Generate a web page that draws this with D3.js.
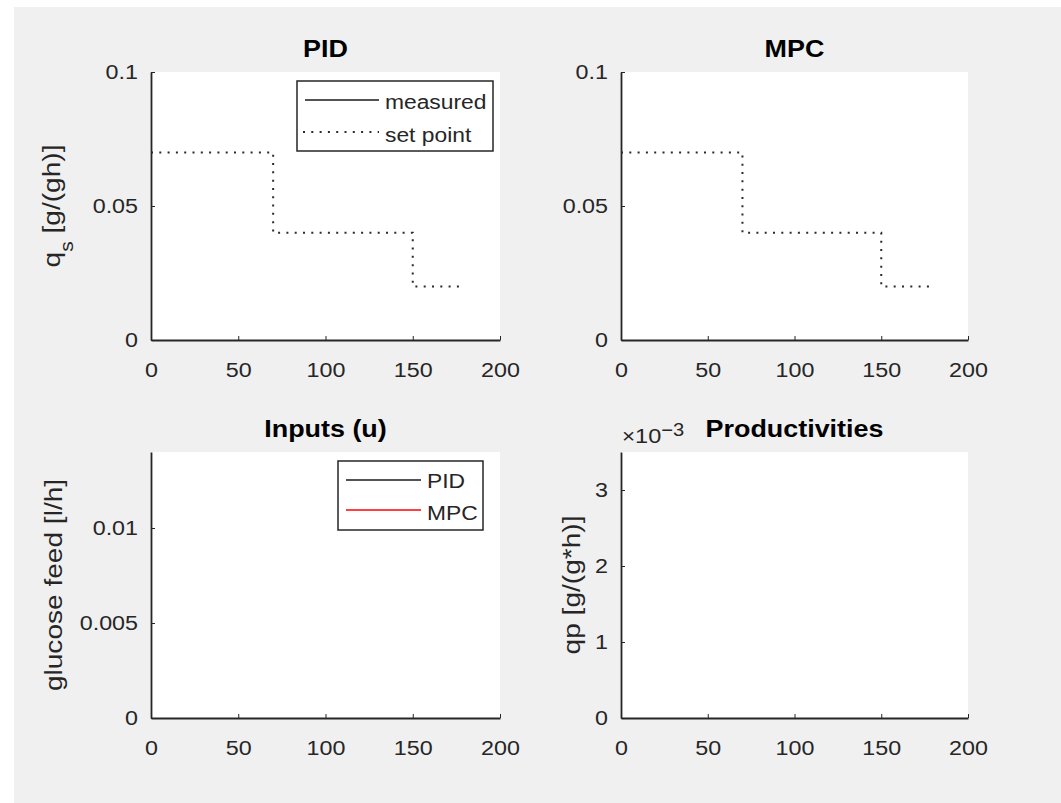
<!DOCTYPE html>
<html>
<head>
<meta charset="utf-8">
<script src="https://cdn.jsdelivr.net/npm/d3@7"></script>
<style>
  html, body { margin: 0; padding: 0; background: #ffffff; }
  svg { display: block; }
  text { font-family: "Liberation Sans", Arial, Helvetica, sans-serif; fill: #262626; }
</style>
</head>
<body>
<div id="fig"></div>
<script>
// ---- data ---------------------------------------------------------------
const timeTicks = [0, 50, 100, 150, 200];            // time axis [h]
const timeDomain = [0, 200];

// substrate uptake set point (piecewise constant)
const spTime  = [0, 70, 150, 180];
const spValue = [0.07, 0.04, 0.02, 0.02];

// measured / manipulated traces (no samples logged in this run)
const pidMeasured = [];
const mpcMeasured = [];
const pidFeed = [];
const mpcFeed = [];

const qsTicks = [0, 0.05, 0.1];
const qsDomain = [0, 0.1];
const feedTicks = [0, 0.005, 0.01];
const feedDomain = [0, 0.014];
const qpTicks = [0, 0.001, 0.002, 0.003];
const qpDomain = [0, 0.0035];

// ---- figure -------------------------------------------------------------
const W = 1061, H = 803;
const K = 1.17;                 // horizontal glyph stretch of the figure font
const KT = 1.11;                // same, for tick labels
const INK = "#262626";

const svg = d3.select("#fig").append("svg")
  .attr("width", W).attr("height", H);

// figure window background
svg.append("rect").attr("x", 14).attr("y", 7)
  .attr("width", W - 14).attr("height", H - 7).attr("fill", "#f0f0f0");

// place a text run, stretched along its reading direction
function label(g, x, y, str, opts = {}) {
  const rot = opts.rotate || 0;
  const t = g.append("g")
    .attr("transform", `translate(${x},${y}) rotate(${rot}) scale(${opts.k || K},1)`)
    .append("text")
    .attr("text-anchor", opts.anchor || "middle")
    .attr("font-size", opts.size || 20)
    .attr("font-weight", opts.bold ? "bold" : "normal")
    .style("fill", opts.color || INK);
  if (typeof str === "string") t.text(str);
  else str(t);
  return t;
}

const panels = [
  { key: "pidQs", title: "PID", x0: 151, x1: 500, y0: 72, y1: 340,
    yDomain: qsDomain, yTicks: qsTicks, fmt: d => String(d),
    ylabel: t => { t.append("tspan").text("q");
                   t.append("tspan").attr("font-size", 18).attr("dy", 13).text("s");
                   t.append("tspan").attr("dy", -13).text(" [g/(gh)]"); },
    ylabX: 60 },
  { key: "mpcQs", title: "MPC", x0: 621, x1: 968, y0: 72, y1: 340,
    yDomain: qsDomain, yTicks: qsTicks, fmt: d => String(d) },
  { key: "inputs", title: "Inputs (u)", x0: 151, x1: 500, y0: 452, y1: 718,
    yDomain: feedDomain, yTicks: feedTicks, fmt: d => String(d),
    ylabel: t => t.text("glucose feed [l/h]"), ylabX: 62 },
  { key: "prod", title: "Productivities", x0: 621, x1: 968, y0: 452, y1: 718,
    yDomain: qpDomain, yTicks: qpTicks, fmt: d => String(Math.round(d * 1000)),
    ylabel: t => t.text("qp [g/(g*h)]"), ylabX: 580, exponent: true }
];

const scales = {};

panels.forEach(p => {
  const g = svg.append("g");
  const x = d3.scaleLinear().domain(timeDomain).range([p.x0, p.x1]);
  const y = d3.scaleLinear().domain(p.yDomain).range([p.y1, p.y0]);
  scales[p.key] = { x, y, g };

  // plot area
  g.append("rect").attr("x", p.x0).attr("y", p.y0)
    .attr("width", p.x1 - p.x0).attr("height", p.y1 - p.y0)
    .attr("fill", "#ffffff");

  // x axis
  const xa = g.append("g").attr("transform", `translate(0,${p.y1})`)
    .call(d3.axisBottom(x).tickValues(timeTicks).tickFormat(d => String(d))
      .tickSizeInner(-4).tickSizeOuter(0).tickPadding(22));
  // y axis
  const ya = g.append("g").attr("transform", `translate(${p.x0},0)`)
    .call(d3.axisLeft(y).tickValues(p.yTicks).tickFormat(p.fmt)
      .tickSizeInner(-4).tickSizeOuter(0).tickPadding(13));

  [xa, ya].forEach(a => {
    a.select(".domain").attr("stroke", INK).attr("stroke-width", 1.8);
    a.selectAll(".tick line").attr("stroke", INK).attr("stroke-width", 1);
    a.selectAll(".tick text").attr("font-size", 21).attr("font-family", null)
      .style("fill", INK).attr("fill", null);
  });
  xa.selectAll(".tick text").attr("transform", `scale(${KT},1)`);
  ya.selectAll(".tick text").attr("x", -13 / KT).attr("transform", `scale(${KT},1)`);

  // title
  const cx = (p.x0 + p.x1) / 2;
  label(svg, cx, p.y0 - 15, p.title, { size: 23, bold: true, color: "#000000" });

  // y label
  if (p.ylabel) {
    label(svg, p.ylabX, (p.y0 + p.y1) / 2, p.ylabel, { size: 24, rotate: -90 });
  }

  // axis exponent
  if (p.exponent) {
    label(svg, p.x0 + 1, p.y0 - 9, t => {
      t.append("tspan").attr("font-size", 20).text("\u00d7");
      t.append("tspan").text("10");
      t.append("tspan").attr("font-size", 18).attr("dy", -7).text("\u22123");
    }, { anchor: "start", size: 21, k: 1.12 });
  }
});

// ---- set point / measured traces ---------------------------------------
const spData = spTime.map((t, i) => ({ t, v: spValue[i] }));
["pidQs", "mpcQs"].forEach((k, i) => {
  const { x, y, g } = scales[k];
  const line = d3.line().x(d => x(d.t)).y(d => y(d.v)).curve(d3.curveStepAfter);
  g.append("path").datum(spData).attr("d", line)
    .attr("fill", "none").attr("stroke", "#2b2b2b")
    .attr("stroke-width", 2).attr("stroke-dasharray", "2,6.3");
  const meas = i === 0 ? pidMeasured : mpcMeasured;
  g.append("path").datum(meas)
    .attr("d", d3.line().x(d => x(d.t)).y(d => y(d.v)))
    .attr("fill", "none").attr("stroke", "#000000").attr("stroke-width", 1.3);
});

["pidFeed", "mpcFeed"].forEach((k, i) => {
  const { x, y, g } = scales.inputs;
  const data = i === 0 ? pidFeed : mpcFeed;
  g.append("path").datum(data)
    .attr("d", d3.line().x(d => x(d.t)).y(d => y(d.v)))
    .attr("fill", "none").attr("stroke", i === 0 ? "#000000" : "#ff0000")
    .attr("stroke-width", 1.3);
});

// ---- legends ------------------------------------------------------------
function legend(box, rows) {
  const g = svg.append("g");
  g.append("rect").attr("x", box.x).attr("y", box.y)
    .attr("width", box.w).attr("height", box.h)
    .attr("fill", "#ffffff").attr("stroke", INK).attr("stroke-width", 1.5);
  rows.forEach(r => {
    g.append("line").attr("x1", r.lx0).attr("x2", r.lx1)
      .attr("y1", r.ly).attr("y2", r.ly)
      .attr("stroke", r.color).attr("stroke-width", r.dash ? 2 : 1.6)
      .attr("stroke-dasharray", r.dash || null);
    label(g, r.tx, r.ty, r.text, { anchor: "start", size: 19.5 });
  });
}

legend({ x: 297, y: 81, w: 196, h: 70 }, [
  { lx0: 305, lx1: 379, ly: 100, color: "#1a1a1a", tx: 385, ty: 109, text: "measured" },
  { lx0: 303, lx1: 379, ly: 132, color: "#2b2b2b", dash: "2,6.3", tx: 385, ty: 142, text: "set point" }
]);

legend({ x: 338, y: 461, w: 145, h: 69 }, [
  { lx0: 346, lx1: 421, ly: 480, color: "#1a1a1a", tx: 427, ty: 488, text: "PID" },
  { lx0: 346, lx1: 421, ly: 510, color: "#ff0000", tx: 427, ty: 520, text: "MPC" }
]);
</script>
</body>
</html>
